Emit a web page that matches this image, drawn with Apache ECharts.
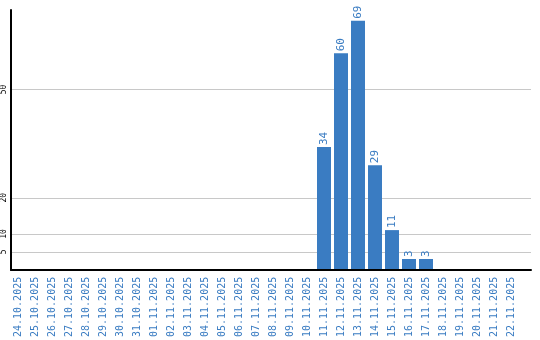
<!DOCTYPE html>
<html><head><meta charset="utf-8">
<script src="https://cdn.jsdelivr.net/npm/echarts@6/dist/echarts.min.js"></script>
<style>html,body{margin:0;padding:0;background:#fff}#c{width:540px;height:340px}</style>
</head><body><div id="c"></div>
<script>
const categories = ['24.10.2025','25.10.2025','26.10.2025','27.10.2025','28.10.2025','29.10.2025','30.10.2025','31.10.2025',
'01.11.2025','02.11.2025','03.11.2025','04.11.2025','05.11.2025','06.11.2025','07.11.2025','08.11.2025','09.11.2025','10.11.2025',
'11.11.2025','12.11.2025','13.11.2025','14.11.2025','15.11.2025','16.11.2025','17.11.2025','18.11.2025','19.11.2025','20.11.2025','21.11.2025','22.11.2025'];
const values = [0,0,0,0,0,0,0,0, 0,0,0,0,0,0,0,0,0,0, 34,60,69,29,11,3,3,0,0,0,0,0];
const yTicks = [5,10,20,50];
const yMax = 72;

const blue = '#3a7cc2';
const chart = echarts.init(document.getElementById('c'));
chart.setOption({
  animation: false,
  grid: [
    {left: 9.5, width: 510, top: 10, bottom: 70},
    {left: 10.5, right: 9, top: 10, bottom: 70}
  ],
  xAxis: [
    {type: 'category', gridIndex: 0, data: categories,
     axisLine: {show: false}, axisTick: {show: false},
     axisLabel: {rotate: 90, interval: 0, color: blue, fontFamily: 'DejaVu Sans Mono', fontSize: 10, margin: 7}},
    {type: 'value', gridIndex: 1, min: 0, max: 1, zlevel: 2,
     axisLine: {show: true, onZero: false, lineStyle: {color: '#000', width: 2}},
     axisTick: {show: false}, axisLabel: {show: false}, splitLine: {show: false}}
  ],
  yAxis: [
    {type: 'value', gridIndex: 0, min: 0, max: yMax, show: false},
    {type: 'value', gridIndex: 1, min: 0, max: yMax, zlevel: 2,
     axisLine: {show: true, lineStyle: {color: '#000', width: 2}},
     axisTick: {show: false, customValues: yTicks},
     axisLabel: {customValues: yTicks, rotate: 90, color: '#000', fontFamily: 'DejaVu Sans Mono', fontSize: 8, margin: 3},
     splitLine: {show: false}}
  ],
  series: [
    {type: 'line', xAxisIndex: 1, yAxisIndex: 1, data: [], silent: true, z: 0, zlevel: 0,
     markLine: {silent: true, symbol: 'none', label: {show: false}, z: 0,
       lineStyle: {color: '#c8c8c8', type: 'solid', width: 1},
       data: yTicks.map(v => ({yAxis: v}))}},
    {type: 'bar', xAxisIndex: 0, yAxisIndex: 0, data: values, barWidth: 14, z: 10, zlevel: 1,
     itemStyle: {color: blue},
     label: {show: true, position: 'top', rotate: 90, align: 'left', verticalAlign: 'middle', distance: 2,
       color: blue, fontFamily: 'DejaVu Sans Mono', fontSize: 11,
       formatter: p => p.value ? String(p.value) : ''}}
  ]
});
</script></body></html>
